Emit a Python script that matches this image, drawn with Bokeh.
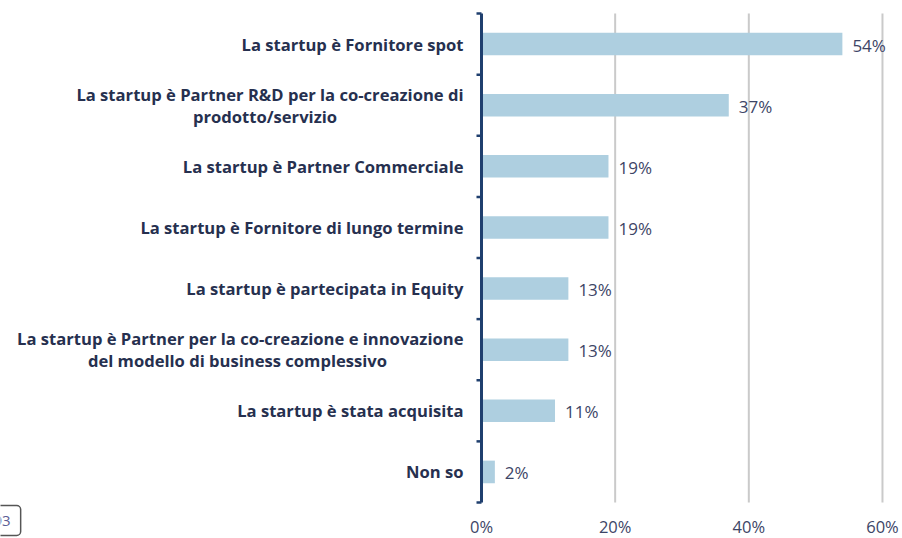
import math
from bokeh.plotting import figure
from bokeh.models import ColumnDataSource, Label, Range1d
from bokeh.core.properties import value
from bokeh.embed import file_html
from bokeh.resources import INLINE

# ---- data ----
categories = [
    "La startup è Fornitore spot",
    "La startup è Partner R&D per la co-creazione di\nprodotto/servizio",
    "La startup è Partner Commerciale",
    "La startup è Fornitore di lungo termine",
    "La startup è partecipata in Equity",
    "La startup è Partner per la co-creazione e innovazione\ndel modello di business complessivo",
    "La startup è stata acquisita",
    "Non so",
]
values = [54, 37, 19, 19, 13, 13, 11, 2]
x_ticks = [0, 20, 40, 60]
x_tick_labels = ["0%", "20%", "40%", "60%"]
grid_ticks = [20, 40, 60]
page_number = "93"

# ---- layout (pixels) ----
W, H = 902, 538
ZERO_PX = 481          # pixel position of 0 %
PX_PER_UNIT = 6.683
AX_TOP, AX_BOTTOM = 13, 502
# approximate pixel width of the first line of two-line labels (for centring line 2)
first_line_widths = {1: 397, 5: 452}

n = len(categories)
y_pos = [n - 0.5 - i for i in range(n)]
band = (AX_BOTTOM - AX_TOP) / n

LFONT = "Open Sans"
NFONT = "Open Sans"
TXT = "#26304f"
NUM = "#3d4566"
AXIS = "#1f3f6e"

p = figure(width=W, height=H, output_backend="svg", toolbar_location=None,
           x_range=Range1d(-ZERO_PX / PX_PER_UNIT, (W - ZERO_PX) / PX_PER_UNIT),
           y_range=Range1d(-(H - AX_BOTTOM) / band, n + AX_TOP / band),
           x_axis_location=None, y_axis_location=None,
           min_border_left=0, min_border_right=0, min_border_top=0, min_border_bottom=0)
p.outline_line_color = None
p.background_fill_color = "white"
p.border_fill_color = "white"
p.xgrid.grid_line_color = None
p.ygrid.grid_line_color = None

# vertical grid lines
p.segment(x0=grid_ticks, y0=[0] * len(grid_ticks), x1=grid_ticks, y1=[n] * len(grid_ticks),
          line_color="#cacaca", line_width=2)

# bars and value labels
src = ColumnDataSource(dict(y=y_pos, v=values, lab=[f"{v}%" for v in values]))
p.hbar(y="y", left=0, right="v", height=0.37, source=src, fill_color="#aecfe0", line_color=None)
p.text(x="v", y="y", text="lab", source=src, x_offset=10, y_offset=1, text_baseline="middle",
       text_font=value(NFONT), text_font_size="17px", text_color=NUM)

# category axis: line + outward boundary ticks
p.segment(x0=[0], y0=[0], x1=[0], y1=[n], line_color=AXIS, line_width=3)
bounds = list(range(n + 1))
p.ray(x=[0] * len(bounds), y=bounds, length=5, length_units="screen", angle=math.pi,
      line_color=AXIS, line_width=2.5)

# x tick labels
p.text(x=x_ticks, y=[0] * len(x_ticks), text=x_tick_labels, y_offset=24, text_align="center",
       text_baseline="middle", text_font=value(NFONT), text_font_size="16.5px", text_color=NUM)

# category labels
l1_y, l1_t, l1_off = [], [], []
l2_y, l2_t, l2_x = [], [], []
for i, c in enumerate(categories):
    parts = c.split("\n")
    l1_y.append(y_pos[i]); l1_t.append(parts[0])
    if len(parts) > 1:
        l1_off.append(-11)
        l2_y.append(y_pos[i]); l2_t.append(parts[1])
        l2_x.append(-18 - first_line_widths[i] / 2)
    else:
        l1_off.append(0)

s1 = ColumnDataSource(dict(x=[0] * len(l1_y), y=l1_y, t=l1_t, yo=l1_off))
p.text(x="x", y="y", text="t", source=s1, x_offset=-18, y_offset="yo", text_align="right",
       text_baseline="middle", text_font=value(LFONT), text_font_style="bold",
       text_font_size="16.6px", text_color=TXT)
s2 = ColumnDataSource(dict(x=[0] * len(l2_y), y=l2_y, t=l2_t, xo=l2_x))
p.text(x="x", y="y", text="t", source=s2, x_offset="xo", y_offset=11, text_align="center",
       text_baseline="middle", text_font=value(LFONT), text_font_style="bold",
       text_font_size="16.6px", text_color=TXT)

# page-number box partially cut at the bottom-left edge
p.add_layout(Label(x=-17, y=33, x_units="screen", y_units="screen", text=page_number,
                   text_baseline="top",
                   text_font=NFONT, text_font_size="15px", text_color="#5b5e96",
                   border_line_color="#555555", border_line_width=1.5, border_radius=4,
                   padding=10))

open("out.html", "w").write(file_html(p, INLINE))
